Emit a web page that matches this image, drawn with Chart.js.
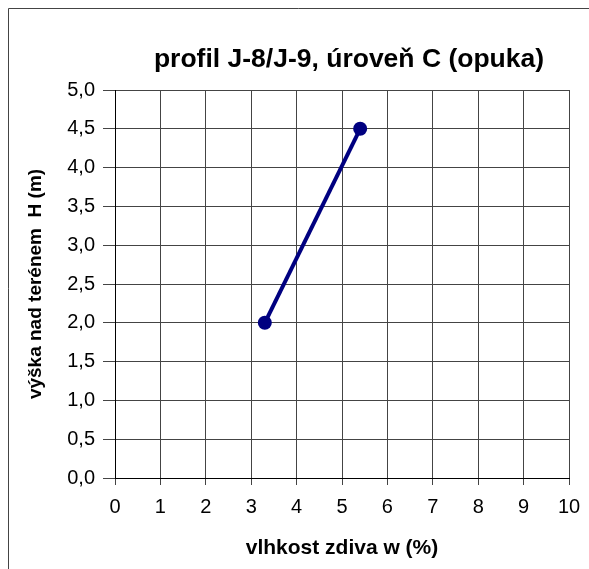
<!DOCTYPE html>
<html>
<head>
<meta charset="utf-8">
<script src="https://cdn.jsdelivr.net/npm/chart.js@4/dist/chart.umd.min.js"></script>
<style>
  html, body { margin: 0; padding: 0; background: #fff; }
  #wrap { position: relative; width: 589px; height: 569px; }
</style>
</head>
<body>
<div id="wrap"><canvas id="c" width="589" height="569"></canvas></div>
<script>
// ---- data ----
const chartTitle = 'profil J-8/J-9, úroveň C (opuka)';
const xAxisTitle = 'vlhkost zdiva w (%)';
const yAxisTitle = 'výška nad terénem  H (m)';
const moisture = [3.3, 5.4];      // w (%)
const height = [2.0, 4.5];        // H (m)
const xRange = [0, 10];
const yRange = [0, 5];
const xStep = 1;
const yStep = 0.5;

const points = moisture.map((x, i) => ({ x: x, y: height[i] }));

const framePlugin = {
  id: 'frame',
  afterLayout(chart) {
    const t = chart.titleBlock;
    if (t) {
      const shift = 349 - (t.left + t.right) / 2;
      t.left += shift; t.right += shift;
    }
  },
  beforeDraw(chart) {
    const ctx = chart.ctx;
    ctx.save();
    ctx.fillStyle = '#fff';
    ctx.fillRect(0, 0, chart.width, chart.height);
    ctx.strokeStyle = '#444';
    ctx.lineWidth = 1;
    ctx.beginPath();
    ctx.moveTo(8.5, chart.height);
    ctx.lineTo(8.5, 8.5);
    ctx.lineTo(chart.width, 8.5);
    ctx.stroke();
    ctx.restore();
  }
};

new Chart(document.getElementById('c'), {
  type: 'scatter',
  data: {
    datasets: [{
      data: points,
      showLine: true,
      borderColor: '#000080',
      backgroundColor: '#000080',
      borderWidth: 4,
      pointRadius: 7,
      pointBorderWidth: 0,
      pointBackgroundColor: '#000080'
    }]
  },
  options: {
    responsive: false,
    animation: false,
    layout: { padding: { left: 0, right: 20, top: 0, bottom: 0 } },
    plugins: {
      legend: { display: false },
      tooltip: { enabled: false },
      title: {
        display: true,
        text: chartTitle,
        color: '#000',
        font: { family: 'Liberation Sans, Arial, sans-serif', size: 26.5, weight: 'bold' },
        padding: { top: 44, bottom: 14.2 }
      }
    },
    scales: {
      x: {
        type: 'linear',
        min: xRange[0], max: xRange[1],
        afterFit(s) { s.height = 91; s.paddingRight = 0; s.paddingLeft = 0; },
        ticks: {
          stepSize: xStep,
          color: '#000',
          padding: 10,
          maxRotation: 0,
          font: { family: 'Liberation Sans, Arial, sans-serif', size: 20 }
        },
        grid: { color: '#444', lineWidth: 1, tickLength: 7, tickColor: '#444' },
        border: { color: '#000', width: 1 },
        title: {
          display: true,
          text: xAxisTitle,
          color: '#000',
          font: { family: 'Liberation Sans, Arial, sans-serif', size: 21, weight: 'bold' },
          padding: { top: 0, bottom: 8 }
        }
      },
      y: {
        type: 'linear',
        min: yRange[0], max: yRange[1],
        afterFit(s) { s.width = 115; },
        ticks: {
          stepSize: yStep,
          color: '#000',
          padding: 8,
          font: { family: 'Liberation Sans, Arial, sans-serif', size: 20 },
          callback: (v) => Number(v).toFixed(1).replace('.', ',')
        },
        grid: { color: '#444', lineWidth: 1, tickLength: 12, tickColor: '#444' },
        border: { color: '#000', width: 1 },
        title: {
          display: true,
          text: yAxisTitle,
          color: '#000',
          font: { family: 'Liberation Sans, Arial, sans-serif', size: 19, weight: 'bold' },
          padding: { top: 24, bottom: 0 }
        }
      }
    }
  },
  plugins: [framePlugin]
});
</script>
</body>
</html>
